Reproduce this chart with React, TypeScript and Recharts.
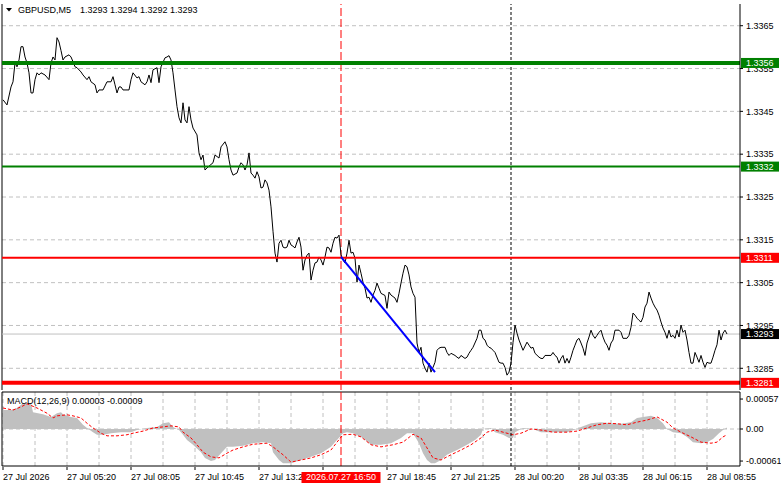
import React from 'react';
import { ComposedChart, Line, Area, XAxis, YAxis, CartesianGrid, ReferenceLine } from 'recharts';

const FONT = '"Liberation Sans", Arial, sans-serif';
const FS = 9;

// ---------- axes / labels ----------
const barDomain: [number, number] = [-0.5, 368.5];
const gridBars = [0, 16, 32, 48, 64, 80, 96, 112, 128, 144, 160, 176, 192, 208, 224, 240, 256, 272, 288, 304, 320, 336, 352];
const timeTickBars = [0, 32, 64, 96, 128, 160, 192, 224, 256, 288, 320, 352];
const timeLabels = ['27 Jul 2026', '27 Jul 05:20', '27 Jul 08:05', '27 Jul 10:45', '27 Jul 13:25', '27 Jul 16:05', '27 Jul 18:45', '27 Jul 21:25', '28 Jul 00:20', '28 Jul 03:35', '28 Jul 06:15', '28 Jul 08:55'];
const markerBar = 169;
const markerLabel = '2026.07.27 16:50';
const daySeparatorBar = 254;

const priceDomain: [number, number] = [1.327993, 1.337007];
const priceTicks = [1.3365, 1.3355, 1.3345, 1.3335, 1.3325, 1.3315, 1.3305, 1.3295, 1.3285];
const priceTickLabels = ['1.3365', '1.3355', '1.3345', '1.3335', '1.3325', '1.3315', '1.3305', '1.3295', '1.3285'];

const levelValues = [1.33563, 1.33321, 1.33108, 1.32816];
const levelLabels = ['1.3356', '1.3332', '1.3311', '1.3281'];
const levelColors = ['#008000', '#008000', '#ff0000', '#ff0000'];
const levelWidths = [4, 2, 2, 4];

const currentPrice = 1.3293;
const currentPriceLabel = '1.3293';

const macdDomain: [number, number] = [-0.000704, 0.000704];
const macdTicks = [0.00057, 0, -0.00061];
const macdTickLabels = ['0.00057', '0.00', '-0.00061'];

const symbolLabel = 'GBPUSD,M5';
const ohlcLabel = '1.3293 1.3294 1.3292 1.3293';
const macdTitle = 'MACD(12,26,9) 0.00003 -0.00009';

// ---------- series: [bar index, close] ----------
const priceSeries: [number, number][] = [
  [0, 1.33477], [2, 1.33465], [4, 1.33507], [5, 1.33519], [6, 1.33563], [7, 1.33554], [8, 1.3357], [9, 1.33601],
  [10, 1.33601], [11, 1.33577], [12, 1.33563], [13, 1.3354], [14, 1.33493], [15, 1.33493], [16, 1.33524], [17, 1.3354],
  [18, 1.33535], [19, 1.3354], [21, 1.33535], [23, 1.33524], [24, 1.33563], [25, 1.33577], [26, 1.3357], [27, 1.33622],
  [28, 1.33612], [29, 1.33592], [30, 1.3357], [31, 1.33577], [33, 1.33582], [34, 1.33577], [35, 1.33566], [36, 1.33554],
  [37, 1.33552], [39, 1.33542], [40, 1.33535], [42, 1.33524], [43, 1.33531], [44, 1.33519], [46, 1.33512], [47, 1.33493],
  [48, 1.335], [50, 1.335], [52, 1.33519], [54, 1.33519], [55, 1.33531], [56, 1.33512], [57, 1.33493], [58, 1.33507],
  [59, 1.33507], [60, 1.335], [63, 1.335], [64, 1.33524], [65, 1.3354], [67, 1.33528], [68, 1.33531], [69, 1.33519],
  [71, 1.33512], [72, 1.33519], [73, 1.33535], [74, 1.33517], [75, 1.33547], [77, 1.33552], [78, 1.33517], [79, 1.33554],
  [81, 1.33575], [82, 1.33577], [83, 1.3358], [84, 1.3357], [85, 1.3354], [86, 1.335], [87, 1.33461], [88, 1.33435],
  [89, 1.33423], [90, 1.3347], [91, 1.3343], [92, 1.33423], [93, 1.33461], [94, 1.3343], [95, 1.33411], [97, 1.33395],
  [98, 1.33353], [99, 1.33337], [100, 1.33348], [101, 1.33313], [102, 1.33318], [105, 1.3333], [106, 1.33348], [108, 1.33341],
  [109, 1.33367], [111, 1.33379], [112, 1.33367], [113, 1.33337], [114, 1.33313], [115, 1.33301], [117, 1.33306], [118, 1.3332],
  [119, 1.3333], [120, 1.33325], [121, 1.33313], [122, 1.33325], [123, 1.33353], [124, 1.33306], [125, 1.33301], [126, 1.33294],
  [127, 1.33309], [128, 1.33297], [129, 1.33271], [130, 1.33273], [131, 1.3329], [132, 1.33283], [133, 1.33266], [134, 1.33227],
  [135, 1.3317], [136, 1.33119], [137, 1.33098], [138, 1.33142], [139, 1.33149], [140, 1.33133], [141, 1.33131], [142, 1.33133],
  [143, 1.33149], [144, 1.33138], [145, 1.33135], [146, 1.33131], [147, 1.33145], [148, 1.33156], [149, 1.33133], [150, 1.33079],
  [151, 1.33103], [152, 1.33114], [153, 1.33119], [154, 1.33056], [155, 1.33079], [156, 1.33096], [157, 1.33098], [158, 1.3311],
  [159, 1.33103], [160, 1.33091], [161, 1.3311], [162, 1.33133], [163, 1.33131], [164, 1.33121], [165, 1.33142], [166, 1.33156],
  [167, 1.33154], [168, 1.33161], [169, 1.33115], [170, 1.33103], [171, 1.33096], [172, 1.33119], [173, 1.33149], [174, 1.33119],
  [175, 1.33121], [176, 1.33107], [177, 1.33051], [178, 1.33091], [179, 1.33072], [180, 1.33051], [181, 1.33037], [182, 1.33014],
  [183, 1.33016], [184, 1.33004], [185, 1.33021], [186, 1.33032], [187, 1.33049], [188, 1.33037], [189, 1.33025], [191, 1.3302],
  [192, 1.3299], [193, 1.33028], [194, 1.33021], [196, 1.33014], [197, 1.33004], [198, 1.33025], [199, 1.33049], [200, 1.33072],
  [201, 1.33091], [202, 1.33087], [203, 1.33068], [204, 1.3304], [205, 1.33025], [206, 1.33016], [207, 1.32909], [208, 1.32887],
  [209, 1.32899], [210, 1.32862], [211, 1.3285], [212, 1.32841], [213, 1.32862], [214, 1.32841], [215, 1.32852], [216, 1.32864],
  [217, 1.32892], [218, 1.32897], [219, 1.32899], [221, 1.32899], [222, 1.32887], [223, 1.3288], [224, 1.32885], [226, 1.3288],
  [227, 1.32876], [228, 1.32873], [229, 1.3288], [231, 1.32873], [232, 1.32876], [233, 1.32885], [234, 1.32892], [235, 1.32899],
  [237, 1.3292], [238, 1.32939], [239, 1.32939], [240, 1.3292], [241, 1.32916], [242, 1.32904], [243, 1.32899], [244, 1.32897],
  [245, 1.32892], [246, 1.32887], [248, 1.32864], [249, 1.32862], [250, 1.32862], [251, 1.32852], [252, 1.32834], [253, 1.32841],
  [254, 1.32862], [255, 1.3291], [256, 1.32951], [257, 1.32932], [258, 1.32916], [259, 1.32904], [260, 1.32892], [262, 1.32911],
  [263, 1.32904], [264, 1.32897], [265, 1.32899], [266, 1.32885], [268, 1.32876], [269, 1.32873], [270, 1.32873], [271, 1.3288],
  [274, 1.3288], [275, 1.32887], [276, 1.3288], [277, 1.32876], [278, 1.32862], [279, 1.32873], [280, 1.3288], [281, 1.32862],
  [282, 1.32873], [283, 1.32862], [284, 1.32876], [285, 1.32892], [286, 1.32904], [287, 1.32916], [288, 1.3292], [289, 1.32909],
  [290, 1.32897], [291, 1.3288], [292, 1.32909], [293, 1.32923], [294, 1.32939], [295, 1.32927], [296, 1.3292], [297, 1.32927],
  [298, 1.32934], [299, 1.32939], [300, 1.32923], [301, 1.32911], [302, 1.32904], [303, 1.32892], [304, 1.32909], [305, 1.32916],
  [306, 1.32939], [308, 1.32939], [309, 1.32934], [310, 1.3292], [312, 1.3292], [313, 1.32927], [314, 1.32946], [315, 1.32979],
  [316, 1.32974], [317, 1.32967], [318, 1.32962], [319, 1.32958], [320, 1.32969], [321, 1.32993], [322, 1.33002], [323, 1.33028],
  [324, 1.33014], [325, 1.33002], [326, 1.32993], [327, 1.32986], [328, 1.32974], [329, 1.32958], [330, 1.32944], [331, 1.32934],
  [332, 1.3292], [333, 1.32939], [334, 1.32923], [335, 1.32927], [336, 1.3292], [337, 1.32939], [338, 1.32923], [339, 1.32951],
  [340, 1.32934], [341, 1.32939], [342, 1.32916], [343, 1.32887], [344, 1.32862], [345, 1.32862], [346, 1.32887], [347, 1.32876],
  [348, 1.32864], [349, 1.3288], [350, 1.32864], [351, 1.32852], [352, 1.32864], [353, 1.32862], [354, 1.32862], [355, 1.32876],
  [356, 1.32892], [357, 1.32905], [358, 1.32939], [359, 1.32916], [360, 1.32932], [361, 1.32939], [362, 1.3293],
];

const trendLine: [number, number][] = [[169, 1.3311], [216, 1.32841]];

const macdHistogram: [number, number][] = [
  [0, 0.00036], [4, 0.00036], [7, 0.0004], [9, 0.00046], [10, 0.00049], [14, 0.00049], [15, 0.00032], [20, 0.00028],
  [24, 0.00023], [27, 0.0003], [29, 0.00032], [30, 0.00028], [34, 0.00023], [37, 0.00021], [40, 0.00008], [42, 0.00002],
  [45, -0.00006], [47, -0.00011], [50, -0.00011], [54, -0.00008], [59, -0.00006], [64, -0.00006], [67, -0.00002], [72, 0.00002],
  [77, 0.00004], [80, 0.00011], [83, 0.00013], [85, 0.00004], [88, -0.00002], [90, -0.00011], [92, -0.00021], [95, -0.0003],
  [99, -0.00044], [101, -0.00055], [104, -0.00061], [106, -0.00059], [109, -0.00046], [112, -0.00034], [115, -0.00034], [120, -0.00032],
  [125, -0.00027], [130, -0.00025], [134, -0.00027], [135, -0.00044], [138, -0.00059], [140, -0.00065], [144, -0.00065], [149, -0.00059],
  [154, -0.00053], [159, -0.00046], [164, -0.00034], [167, -0.00021], [170, -0.00008], [172, -0.00006], [175, -0.00008], [180, -0.00017],
  [184, -0.0003], [189, -0.0003], [194, -0.00027], [199, -0.00017], [202, -0.00008], [205, -0.00008], [208, -0.00027], [210, -0.00046],
  [212, -0.00059], [214, -0.00065], [216, -0.00065], [219, -0.00059], [222, -0.00049], [227, -0.0004], [232, -0.0003], [236, -0.00021],
  [239, -0.00011], [240, 0], [244, 0.00002], [246, -0.00006], [250, -0.00011], [253, -0.00017], [255, -0.00017], [256, -0.00006],
  [260, 0.00002], [265, 0], [269, -0.00006], [275, -0.00006], [282, -0.00006], [287, 0], [289, 0.00004], [294, 0.00011],
  [299, 0.00013], [304, 0.00011], [309, 0.0001], [314, 0.00013], [317, 0.00021], [320, 0.00023], [324, 0.00025], [327, 0.00021],
  [330, 0.00011], [332, 0], [335, -0.00006], [339, -0.00008], [342, -0.00015], [345, -0.00025], [349, -0.00027], [352, -0.00025],
  [355, -0.00019], [358, -0.00008], [360, -0.00002], [362, 0.00003],
];

const macdSignal: [number, number][] = [
  [0, 0.0004], [5, 0.00036], [9, 0.00042], [12, 0.00048], [17, 0.0004], [22, 0.0003], [25, 0.00021], [27, 0.00025],
  [32, 0.00027], [35, 0.00025], [39, 0.00021], [42, 0.00011], [45, 0.00002], [49, -0.00008], [52, -0.00013], [57, -0.00013],
  [62, -0.00011], [65, -0.00008], [70, -0.00004], [75, 0.00002], [80, 0.00004], [84, 0.00006], [88, 0.00004], [90, -0.00006],
  [94, -0.00017], [97, -0.0003], [100, -0.00044], [104, -0.00053], [108, -0.00055], [112, -0.00046], [115, -0.0004], [120, -0.00034],
  [125, -0.00029], [132, -0.00027], [135, -0.00034], [140, -0.00049], [144, -0.00063], [149, -0.00059], [154, -0.00055], [159, -0.00049],
  [164, -0.0004], [167, -0.00025], [170, -0.00011], [175, -0.0001], [179, -0.00015], [184, -0.0003], [189, -0.00034], [195, -0.0003],
  [200, -0.00025], [205, -0.0001], [209, -0.00017], [212, -0.00036], [215, -0.00055], [219, -0.00059], [224, -0.00049], [229, -0.0004],
  [234, -0.0003], [239, -0.00017], [242, -0.00006], [246, -0.00002], [250, -0.00006], [255, -0.00011], [259, -0.00008], [264, 0],
  [269, -0.00002], [275, -0.00006], [282, -0.00006], [287, -0.00004], [292, 0.00002], [297, 0.00008], [302, 0.00011], [307, 0.0001],
  [312, 0.00008], [317, 0.00013], [322, 0.00017], [327, 0.00023], [332, 0.00013], [335, 0.00002], [339, -0.00006], [344, -0.00015],
  [349, -0.00025], [354, -0.00027], [357, -0.00025], [360, -0.00015], [362, -0.00011],
];

const priceData = priceSeries.map(([i, p]) => ({ i, p }));
const trendData = trendLine.map(([i, v]) => ({ i, v }));
const histData = macdHistogram.map(([i, h]) => ({ i, h }));
const signalData = macdSignal.map(([i, s]) => ({ i, s }));

const txt = { fontFamily: FONT, fontSize: FS } as const;
const near = (a: number, b: number) => Math.abs(a - b) < 1e-9;

const PriceTick = (props: any) => {
  const { x, y, payload } = props;
  const v = payload.value as number;
  const li = levelValues.findIndex((l) => near(l, v));
  if (li >= 0) {
    return (
      <g>
        <rect x={x + 1} y={y - 5} width={38} height={10} fill={levelColors[li]} />
        <text x={x + 6} y={y + 3.3} fill="#ffffff" {...txt}>{levelLabels[li]}</text>
      </g>
    );
  }
  if (near(v, currentPrice)) {
    return (
      <g>
        <rect x={x + 1} y={y - 5} width={38} height={10} fill="#000000" />
        <text x={x + 6} y={y + 3.3} fill="#ffffff" {...txt}>{currentPriceLabel}</text>
      </g>
    );
  }
  const ti = priceTicks.findIndex((t) => near(t, v));
  return (
    <g>
      <line x1={x} x2={x + 3} y1={y} y2={y} stroke="#000" />
      <text x={x + 6} y={y + 3.3} fill="#000" {...txt}>{priceTickLabels[ti]}</text>
    </g>
  );
};

const MacdTick = (props: any) => {
  const { x, y, payload } = props;
  const ti = macdTicks.findIndex((t) => near(t, payload.value));
  return (
    <g>
      <line x1={x} x2={x + 3} y1={y} y2={y} stroke="#000" />
      <text x={x + 6} y={y + 3.3} fill="#000" {...txt}>{macdTickLabels[ti]}</text>
    </g>
  );
};

const TimeTick = (props: any) => {
  const { x, y, payload } = props;
  const v = payload.value as number;
  if (v === markerBar) {
    return (
      <g>
        <rect x={x - 39.5} y={y + 6} width={79} height={11} fill="#ff0000" />
        <text x={x} y={y + 14.3} textAnchor="middle" fill="#ffffff" {...txt}>{markerLabel}</text>
      </g>
    );
  }
  const idx = timeTickBars.indexOf(v);
  return (
    <g>
      <line x1={x} x2={x} y1={y + 1} y2={y + 4} stroke="#000" />
      <text x={x} y={y + 14.3} fill="#000" {...txt}>{timeLabels[idx]}</text>
    </g>
  );
};

export default function App() {
  const yTicks = [...priceTicks, currentPrice, ...levelValues];
  const xTicks = [...timeTickBars, markerBar];
  return (
    <div style={{ position: 'absolute', left: 0, top: 0, width: 781, height: 489, background: '#ffffff', overflow: 'hidden' }}>
      <div style={{ position: 'absolute', left: 0, top: 0 }}>
        <ComposedChart width={781} height={391} data={priceData} margin={{ top: 4, right: 0, bottom: 1, left: 2 }}>
          <CartesianGrid stroke="#c0c0c0" strokeDasharray="4 3" horizontalValues={priceTicks} verticalValues={gridBars} />
          <XAxis type="number" dataKey="i" domain={barDomain} allowDataOverflow ticks={gridBars} height={0} tick={false} tickLine={false} axisLine={{ stroke: '#000' }} />
          <YAxis orientation="right" type="number" width={41} domain={priceDomain} allowDataOverflow ticks={yTicks} interval={0} tick={<PriceTick />} tickLine={false} tickSize={0} tickMargin={0} axisLine={{ stroke: '#000' }} />
          <ReferenceLine x={barDomain[0]} stroke="#000" ifOverflow="visible" />
          <ReferenceLine x={markerBar} stroke="#ff0000" strokeDasharray="8 3" />
          <ReferenceLine x={daySeparatorBar} stroke="#000" strokeDasharray="3 2" />
          <ReferenceLine y={currentPrice} stroke="#c0c0c0" />
          <Line type="linear" dataKey="p" stroke="#000000" strokeWidth={1} dot={false} activeDot={false} isAnimationActive={false} />
          {levelValues.map((v, k) => (
            <ReferenceLine key={k} y={v} stroke={levelColors[k]} strokeWidth={levelWidths[k]} />
          ))}
          <Line data={trendData} type="linear" dataKey="v" stroke="#0000ff" strokeWidth={2} dot={false} activeDot={false} isAnimationActive={false} />
        </ComposedChart>
      </div>
      <div style={{ position: 'absolute', left: 0, top: 391 }}>
        <ComposedChart width={781} height={98} margin={{ top: 1, right: 0, bottom: 0, left: 2 }}>
          <CartesianGrid stroke="#c0c0c0" strokeDasharray="4 3" horizontalValues={[0]} verticalValues={gridBars} />
          <XAxis type="number" dataKey="i" domain={barDomain} allowDataOverflow ticks={xTicks} interval={0} height={23} tick={<TimeTick />} tickLine={false} tickSize={0} tickMargin={0} axisLine={{ stroke: '#000' }} />
          <YAxis orientation="right" type="number" width={41} domain={macdDomain} allowDataOverflow ticks={macdTicks} interval={0} tick={<MacdTick />} tickLine={false} tickSize={0} tickMargin={0} axisLine={{ stroke: '#000' }} />
          <Area data={histData} type="linear" dataKey="h" baseValue={0} fill="#c0c0c0" fillOpacity={1} stroke="none" dot={false} activeDot={false} isAnimationActive={false} />
          <Line data={signalData} type="linear" dataKey="s" stroke="#ff0000" strokeWidth={1} strokeDasharray="3 2" dot={false} activeDot={false} isAnimationActive={false} />
          <ReferenceLine x={barDomain[0]} stroke="#000" ifOverflow="visible" />
          <ReferenceLine y={macdDomain[1]} stroke="#000" ifOverflow="visible" />
          <ReferenceLine x={markerBar} stroke="#ff0000" strokeDasharray="8 3" />
          <ReferenceLine x={daySeparatorBar} stroke="#000" strokeDasharray="3 2" />
        </ComposedChart>
      </div>
      <svg width={781} height={489} style={{ position: 'absolute', left: 0, top: 0, pointerEvents: 'none' }}>
        <polygon points="6,8 12,8 9,11.5" fill="#000" />
        <text x={18} y={13.3} fill="#000" {...txt}>{symbolLabel}</text>
        <text x={80} y={13.3} fill="#000" {...txt}>{ohlcLabel}</text>
        <text x={7} y={404.3} fill="#000" {...txt}>{macdTitle}</text>
      </svg>
    </div>
  );
}
